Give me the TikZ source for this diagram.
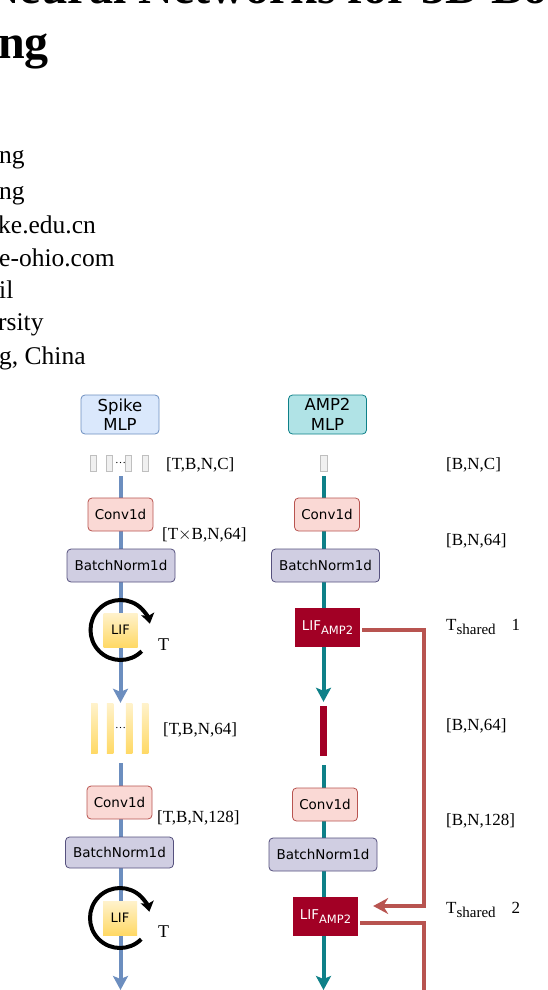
\documentclass[tikz,border=0pt]{standalone}
\usepackage{fontspec}
\setmainfont{Liberation Serif}
\newfontfamily\labelfont{DejaVu Sans}
\usetikzlibrary{arrows.meta, positioning, backgrounds}

\definecolor{spikeline}{HTML}{6C8EBF}
\definecolor{spikefill}{HTML}{DAE8FC}
\definecolor{ampline}{HTML}{0E8088}
\definecolor{ampfill}{HTML}{B0E3E6}
\definecolor{convline}{HTML}{B85450}
\definecolor{convfill}{HTML}{FAD9D5}
\definecolor{bnline}{HTML}{56517E}
\definecolor{bnfill}{HTML}{D0CEE2}
\definecolor{ampred}{HTML}{A20025}
\definecolor{sharered}{HTML}{B85450}
\definecolor{liftop}{HTML}{FFF2CC}
\definecolor{lifbot}{HTML}{FFD966}

\begin{document}
\begin{tikzpicture}[x=1pt, y=-1pt,
    spikemlp/.style={rounded corners=4pt, draw=spikeline, fill=spikefill, line width=0.8pt, minimum width=78pt, minimum height=39pt, inner sep=0pt, align=center, font=\labelfont\fontsize{16.5}{19.5}\selectfont},
    ampmlp/.style={spikemlp, draw=ampline, fill=ampfill},
    conv/.style={rounded corners=4pt, draw=convline, fill=convfill, line width=0.8pt, minimum width=65pt, minimum height=33pt, inner sep=0pt, font=\labelfont\fontsize{13.5}{16}\selectfont},
    bnorm/.style={conv, draw=bnline, fill=bnfill, minimum width=108pt},
    lif/.style={top color=liftop, bottom color=lifbot, minimum width=34pt, minimum height=34pt, inner sep=0pt, font=\labelfont\fontsize{13}{15}\selectfont},
    lifamp/.style={fill=ampred, text=white, minimum width=65pt, minimum height=39pt, inner sep=0pt, font=\labelfont\fontsize{13.5}{15}\selectfont},
    token/.style={draw=gray!50, fill=gray!12, line width=0.5pt, minimum width=6.5pt, minimum height=16pt, inner sep=0pt},
    spikebar/.style={top color=liftop, bottom color=lifbot, minimum width=6.5pt, minimum height=50pt, inner sep=0pt},
    ampbar/.style={fill=ampred, minimum width=7pt, minimum height=50pt, inner sep=0pt},
    dots/.style={inner sep=0pt, font=\fontsize{11}{11}\selectfont},
    dim/.style={anchor=west, inner sep=0pt, font=\fontsize{17}{20}\selectfont},
    pagetext/.style={anchor=base west, inner sep=0pt, font=\fontsize{25.5}{30}\selectfont},
    titletext/.style={anchor=base west, inner sep=0pt, font=\bfseries\fontsize{48}{52}\selectfont},
    spikeflow/.style={draw=spikeline, line width=4pt, -{Stealth[length=14pt, width=15pt, inset=3pt]}},
    ampflow/.style={draw=ampline, line width=4pt, -{Stealth[length=14pt, width=15pt, inset=3pt]}},
    share/.style={draw=sharered, line width=4pt},
    recur/.style={line width=4pt, -{Stealth[length=10pt, width=13pt, inset=2pt]}}
]
\useasboundingbox (0,0) rectangle (548,990);
\clip (0,0) rectangle (548,990);

% page text around the figure
\node[titletext] (title1) at (-15,4) {Neural Networks for 3D Bo};
\node[titletext] (title2) at (-2,59) {ng};
\node[pagetext] (auth1) at (-1,163) {ng};
\node[pagetext] (auth2) at (-1,199) {ng};
\node[pagetext] (auth3) at (-2,233) {ke.edu.cn};
\node[pagetext] (auth4) at (-1,266) {e-ohio.com};
\node[pagetext] (auth5) at (-1,298) {il};
\node[pagetext] (auth6) at (-2,330) {rsity};
\node[pagetext] (auth7) at (-1,364) {g, China};

% Left: Spike MLP
\node[spikemlp] (spikeMLP) at (120,414.5) {Spike\\MLP};
\foreach \i/\xx in {1/93.3, 2/109, 3/128, 4/145}
    \node[token] (tokA\i) at (\xx,463) {};
\node[dots, minimum height=16pt] (tokdotsA) at (120.5,463) {\ldots};
\node[conv] (convA) at (120.5,514.5) {Conv1d};
\node[bnorm] (bnA) at (121,565.5) {BatchNorm1d};
\node[lif] (lifA) at (120.5,630) {LIF};
\foreach \i/\xx in {1/94.3, 2/110, 3/129, 4/145}
    \node[spikebar] (barA\i) at (\xx,728) {};
\node[dots, minimum height=50pt] (spikedotsA) at (120.5,728) {\ldots};
\node[conv] (convC) at (119.5,802.5) {Conv1d};
\node[bnorm, minimum height=31pt] (bnC) at (119.5,852.5) {BatchNorm1d};
\node[lif] (lifC) at (120,918) {LIF};
\coordinate (endA) at (120.5,990);

\node[dim] (dimA1) at (166,465) {[T,B,N,C]};
\node[dim] (dimA2) at (162,535) {[T$\times$B,N,64]};
\node[dim, anchor=base west, font=\fontsize{18}{20}\selectfont] (loopA1) at (158,650) {T};
\node[dim] (dimA3) at (163,730) {[T,B,N,64]};
\node[dim] (dimA4) at (157,818) {[T,B,N,128]};
\node[dim, anchor=base west, font=\fontsize{18}{20}\selectfont] (loopA2) at (158,937) {T};

% Right: AMP2 MLP
\node[ampmlp] (ampMLP) at (327.5,414.5) {AMP2\\MLP};
\node[token] (tokB) at (323.5,463) {};
\node[conv] (convB) at (327,514.5) {Conv1d};
\node[bnorm] (bnB) at (325.5,565.5) {BatchNorm1d};
\node[lifamp] (lifampB) at (327.5,627.5) {LIF\raisebox{-4pt}{\fontsize{11.5}{12}\selectfont AMP2}};
\node[ampbar] (barB) at (323.5,731) {};
\node[conv] (convD) at (325,804.5) {Conv1d};
\node[bnorm] (bnD) at (323,854.5) {BatchNorm1d};
\node[lifamp] (lifampD) at (325.5,916.5) {LIF\raisebox{-4pt}{\fontsize{11.5}{12}\selectfont AMP2}};
\coordinate (endB) at (323.5,990);
\coordinate (shareout) at (424,995);

\node[dim] (dimB1) at (446,465) {[B,N,C]};
\node[dim] (dimB2) at (446,540.5) {[B,N,64]};
\node[dim, anchor=base west] (shareB1) at (446,630) {T\raisebox{-4pt}{\fontsize{15}{15}\selectfont shared}\hspace{16pt}1};
\node[dim] (dimB3) at (446,725.5) {[B,N,64]};
\node[dim] (dimB4) at (446,820.5) {[B,N,128]};
\node[dim, anchor=base west] (shareB2) at (446,913) {T\raisebox{-4pt}{\fontsize{15}{15}\selectfont shared}\hspace{16pt}2};

% flows behind the boxes
\begin{scope}[on background layer]
\draw[spikeflow, shorten <=5pt] (tokdotsA.south) -- (spikedotsA.north);
\draw[spikeflow, shorten <=10pt] (spikedotsA.south) -- (endA);
\draw[ampflow, shorten <=5pt, shorten >=4pt] (tokB.south) -- (barB.north);
\draw[ampflow, shorten <=9pt] (barB.south) -- (endB);
\end{scope}

% time loops
\draw[recur] ([shift={(-45:30pt)}]lifA.center) arc[start angle=-45, end angle=-348, radius=30pt];
\draw[recur] ([shift={(-45:30pt)}]lifC.center) arc[start angle=-45, end angle=-348, radius=30pt];

% shared threshold connectors
\draw[share, -{Stealth[length=15pt, width=16pt, inset=5pt]}] ([xshift=2pt, yshift=-2.5pt]lifampB.east) -- ++(62,0) |- ([xshift=15pt, yshift=10.5pt]lifampD.east);
\draw[share] ([xshift=2pt, yshift=-6.5pt]lifampD.east) -| (shareout);

\end{tikzpicture}
\end{document}
